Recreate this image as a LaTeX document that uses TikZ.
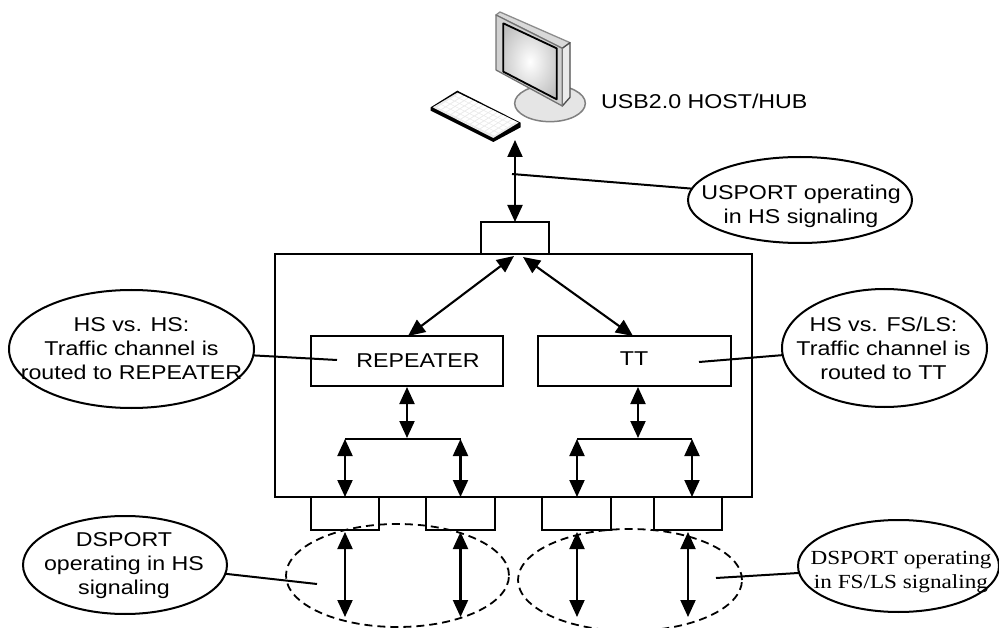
\documentclass[tikz,border=0pt]{standalone}
\usepackage{fontspec}
\setmainfont[FakeStretch=1.16]{Liberation Sans}
\newfontfamily\serifstretch[FakeStretch=1.16]{Liberation Serif}
\usetikzlibrary{arrows.meta,shapes.geometric}
\tikzset{
  boxn/.style={draw,line width=2pt,rectangle,inner sep=0pt,outer sep=0pt},
  oval/.style={draw,line width=2pt,ellipse,inner sep=0pt,outer sep=0pt},
  dashoval/.style={draw,line width=1.8pt,ellipse,inner sep=0pt,outer sep=0pt,dash pattern=on 8pt off 5pt},
  lbl/.style={align=center,inner sep=0pt,font=\fontsize{20}{24}\selectfont},
  biarrow/.style={line width=2.1pt,{Triangle[width=15pt,length=17pt]}-{Triangle[width=15pt,length=17pt]}},
  leader/.style={line width=2pt},
  busline/.style={line width=2pt},
  edgeg/.style={draw=black!45,line width=1.3pt,line join=round},
}
\begin{document}
\begin{tikzpicture}[x=1pt,y=-1pt]
\useasboundingbox (0,0) rectangle (999,628);
% monitor and keyboard (coordinates of the 3x crop)
\begin{scope}[shift={(400,0)},x=0.33333pt,y=-0.33333pt]
  \fill[black!10] (450,310) ellipse [x radius=106,y radius=55];
  \draw[edgeg,line width=1.5pt,draw=black!50] (450,310) ellipse [x radius=106,y radius=55];
  \filldraw[edgeg,fill=black!15] (288,45) -- (300,36) -- (510,128) -- (487,145) -- cycle;
  \filldraw[edgeg,fill=black!8,draw=black!70] (487,145) -- (510,128) -- (510,292) -- (487,318) -- cycle;
  \filldraw[edgeg,fill=black!18,draw=black!55] (288,45) -- (487,145) -- (487,318) -- (288,210) -- cycle;
  \begin{scope}
    \clip (310,70) -- (470,145) -- (470,298) -- (310,215) -- cycle;
    \shade[inner color=white,outer color=black!25] (290,50) rectangle (490,320);
  \end{scope}
  \draw[line width=1.8pt,black,line join=round] (310,215) -- (310,70) -- (470,145) -- (470,298) -- cycle;
  % keyboard
  \fill[black] (92,322) -- (172,272) -- (362,368) -- (362,382) -- (280,426) -- (92,332) -- cycle;
  \fill[black!8] (98,322) -- (172,278) -- (356,368) -- (280,414) -- cycle;
  \foreach \i in {0,...,11}{
    \foreach \j in {0,...,4}{
      \pgfmathsetmacro{\ax}{112+\i*14.5+\j*13.5}
      \pgfmathsetmacro{\ay}{322+\i*7.2-\j*8.6}
      \fill[white] (\ax,\ay) -- ++(11,-7) -- ++(11,5.5) -- ++(-11,7) -- cycle;
    }
  }
\end{scope}
% boxes
\node[boxn,minimum width=477pt,minimum height=243pt] (hub) at (513.5,375.5) {};
\node[boxn,minimum width=68.5pt,minimum height=32pt] (up) at (515.2,238) {};
\node[boxn,minimum width=192pt,minimum height=50pt] (rep) at (407,361) {};
\node[boxn,minimum width=193pt,minimum height=50pt] (tt) at (634.5,361) {};
\node[boxn,minimum width=68pt,minimum height=33pt] (p1) at (345,513.5) {};
\node[boxn,minimum width=69pt,minimum height=33pt] (p2) at (460.5,513.5) {};
\node[boxn,minimum width=69pt,minimum height=33pt] (p3) at (576.5,513.5) {};
\node[boxn,minimum width=68pt,minimum height=33pt] (p4) at (688,513.5) {};
\node[lbl] (repT) at (418,361) {REPEATER};
\node[lbl] (ttT) at (634,358.5) {TT};
% callouts
\node[oval,minimum width=245pt,minimum height=118pt] (hsE) at (131.5,349) {};
\node[lbl] (hsT) at (131.5,349) {HS vs. HS:\\Traffic channel is\\routed to REPEATER};
\node[oval,minimum width=205pt,minimum height=118pt] (ttE) at (884.5,348) {};
\node[lbl] (ttN) at (883.5,348) {HS vs. FS/LS:\\Traffic channel is\\routed to TT};
\node[oval,minimum width=224pt,minimum height=86pt] (usE) at (800,200) {};
\node[lbl] (usT) at (801,206.5) {USPORT operating\\in HS signaling};
\node[oval,minimum width=204pt,minimum height=98pt] (dsE) at (125,565) {};
\node[lbl] (dsT) at (124,565.5) {DSPORT\\operating in HS\\signaling};
\node[oval,minimum width=201pt,minimum height=92pt] (dfE) at (898.5,566) {};
\node[lbl,font=\serifstretch\fontsize{20}{24}\selectfont] (dfT) at (901,572) {DSPORT operating\\in FS/LS signaling};
\node[lbl,anchor=base west] (host) at (601,109) {USB2.0 HOST/HUB};
% port groups
\begin{scope}
  \clip (0,0) rectangle (999,628);
  \node[dashoval,minimum width=223pt,minimum height=103pt] (grpA) at (397.5,575.5) {};
  \node[dashoval,minimum width=224pt,minimum height=102pt] (grpB) at (630,580) {};
\end{scope}
% named ends
\coordinate (hostP) at (515,140);
\coordinate (upP) at (515,222);
\coordinate (usEnd) at (512,174);
\coordinate (hubL) at (514,256);
\coordinate (hubR) at (523,257);
\coordinate (repTop) at (408,336);
\coordinate (ttTop) at (633,336);
\coordinate (repLead) at (337,360);
\coordinate (ttLead) at (699,362);
\coordinate (repBot) at (407,387);
\coordinate (ttBot) at (638,387);
\coordinate (busAl) at (345,439);
\coordinate (busAm) at (407,438);
\coordinate (busAr) at (460.5,439);
\coordinate (busBl) at (577,439);
\coordinate (busBm) at (638,438);
\coordinate (busBr) at (692,439);
\coordinate (dsEnd) at (317,584);
\coordinate (dfEnd) at (716,578);
\foreach \n/\x/\b in {a/345/617,b/460.5/617,c/577/617,d/688/617}{
  \coordinate (low\n t) at (\x,532);
  \coordinate (low\n b) at (\x,\b);
}
% connectors
\draw[biarrow] (hostP) -- (upP);
\draw[leader] (usE.174.9) -- (usEnd);
\draw[biarrow] (hubL) -- (repTop);
\draw[biarrow] (hubR) -- (ttTop);
\draw[leader] (hsE.-3) -- (repLead);
\draw[leader] (ttE.184.5) -- (ttLead);
\draw[biarrow] (repBot) -- (busAm);
\draw[biarrow] (ttBot) -- (busBm);
\draw[busline] (busAl) -- (busAr);
\draw[busline] (busBl) -- (busBr);
\draw[biarrow] (busAl) -- (busAl |- p1.north);
\draw[biarrow] (busAr) -- (busAr |- p2.north);
\draw[biarrow] (busBl) -- (busBl |- p3.north);
\draw[biarrow] (busBr) -- (busBr |- p4.north);
\draw[biarrow] (lowat) -- (lowab);
\draw[biarrow] (lowbt) -- (lowbb);
\draw[biarrow] (lowct) -- (lowcb);
\draw[biarrow] (lowdt) -- (lowdb);
\draw[leader] (dsE.-5.6) -- (dsEnd);
\draw[leader] (dfE.184) -- (dfEnd);
\end{tikzpicture}
\end{document}
